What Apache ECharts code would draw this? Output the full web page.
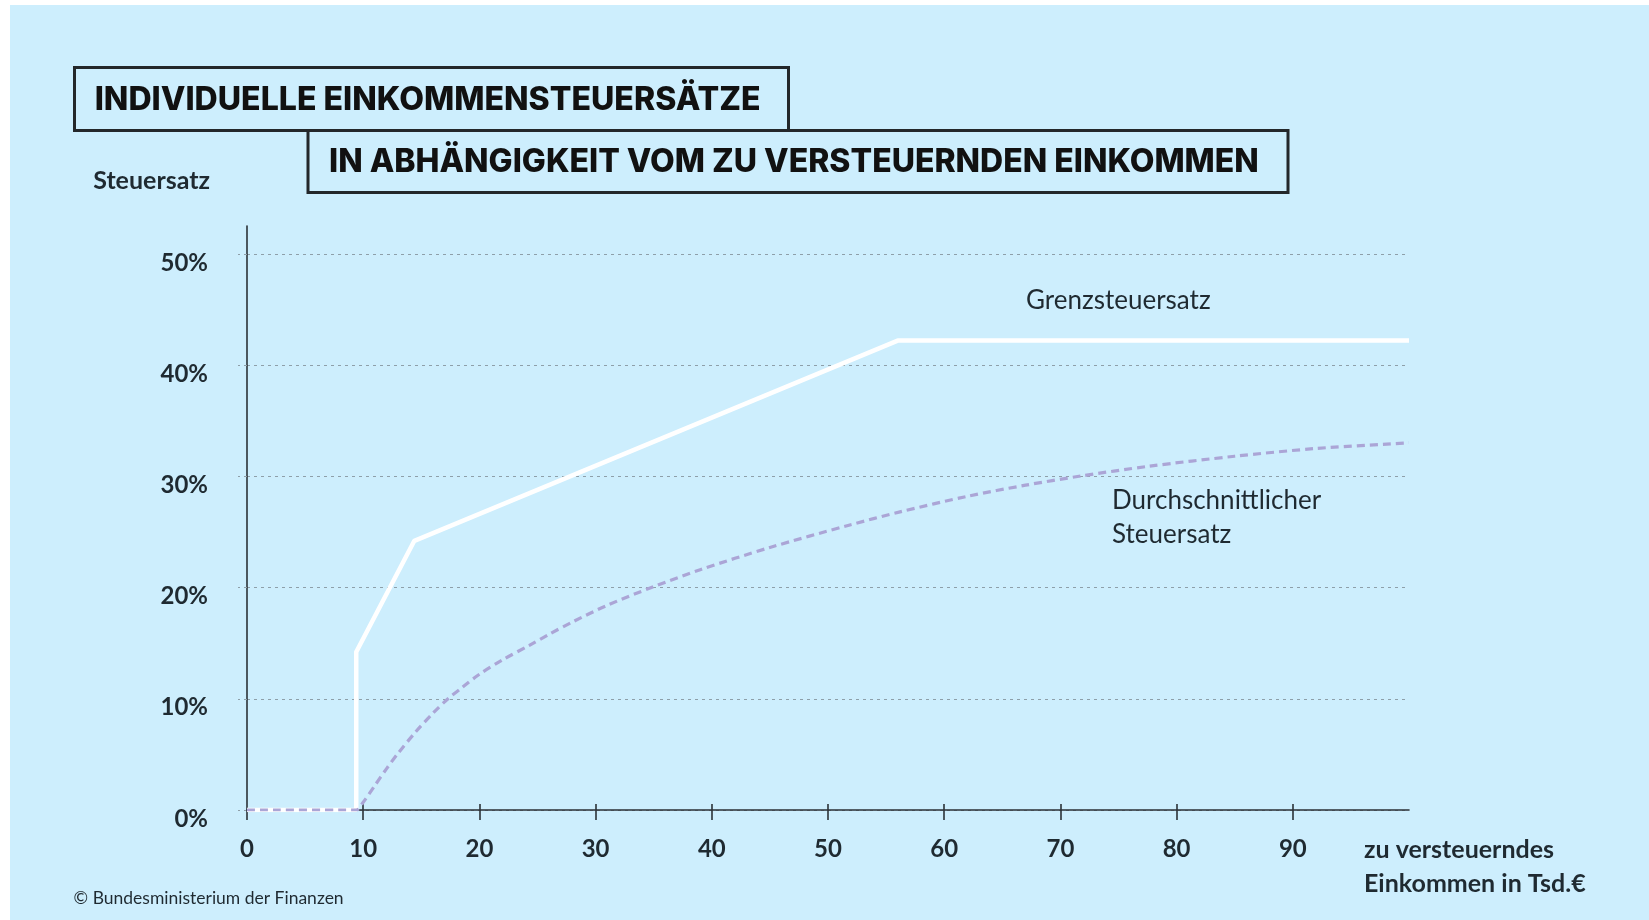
<!DOCTYPE html>
<html><head><meta charset="utf-8">
<script src="https://cdn.jsdelivr.net/npm/echarts@6/dist/echarts.min.js"></script>
<style>html,body{margin:0;padding:0;background:#fff}#c{width:1649px;height:920px}</style>
</head><body><div id="c"></div>
<script>
// ---- data ----
const xTicks = [0, 10, 20, 30, 40, 50, 60, 70, 80, 90];
const yTicks = [0, 10, 20, 30, 40, 50];
const seriesNames = ['Grenzsteuersatz', 'Durchschnittlicher\nSteuersatz'];
const marginalX = [0, 9.4, 9.4, 14.4, 56.0, 100];
const marginalY = [0, 0, 14.2, 24.2, 42.2, 42.2];
const averageX = [0, 9.4, 10, 11, 12, 13, 14.5, 16, 17.3, 18.5, 20, 22, 24.3, 26, 28, 31, 34.8, 39, 45, 51.8, 56.2, 62, 67, 71.6, 77.6, 85, 92, 100];
const averageY = [0, 0, 0.7, 2.2, 3.7, 5.1, 7.0, 8.7, 10, 11.0, 12.2, 13.5, 14.8, 15.8, 16.9, 18.4, 20, 21.6, 23.6, 25.6, 26.8, 28.2, 29.2, 30, 30.9, 31.8, 32.5, 33.0];
const titleLine1 = 'INDIVIDUELLE EINKOMMENSTEUERSÄTZE';
const titleLine2 = 'IN ABHÄNGIGKEIT VOM ZU VERSTEUERNDEN EINKOMMEN';
const yAxisName = 'Steuersatz';
const xAxisName = 'zu versteuerndes\nEinkommen in Tsd.€';
const sourceText = '© Bundesministerium der Finanzen';

// ---- style / layout ----
const BG = '#cdeefd';
const INK = '#1f2a31';
const AXIS = '#2b3136';
const GRID = '#8e9fa9';
const FONT = 'Lato, "Noto Sans", sans-serif';
const TITLE_FONT = 'Inter, "Noto Sans", sans-serif';
const labelAnchor1 = [67.0, 45.8];
const labelAnchor2 = [74.4, 26.3];

function fitSize(text, weight, family, target) {
  const ctx = document.createElement('canvas').getContext('2d');
  ctx.font = weight + ' 100px ' + family;
  return 100 * target / ctx.measureText(text).width;
}
const t1Size = fitSize(titleLine1, 800, TITLE_FONT, 666);
const t2Size = fitSize(titleLine2, 800, TITLE_FONT, 930);

const zip = (xs, ys) => xs.map((x, i) => [x, ys[i]]);

const chart = echarts.init(document.getElementById('c'), null, {renderer: 'canvas'});
const tickStyle = {fontFamily: FONT, fontSize: 24, fontWeight: 'bold', color: INK};
const nameStyle = {fontFamily: FONT, fontSize: 25, fontWeight: 'bold', color: INK};

chart.setOption({
  animation: false,
  backgroundColor: '#ffffff',
  textStyle: {fontFamily: FONT},
  grid: {left: 247, right: 240, top: 226, bottom: 110},
  xAxis: [{
    type: 'value', min: 0, max: 100, interval: 10, position: 'bottom',
    axisLine: {show: true, onZero: false, lineStyle: {color: AXIS, width: 1.6}},
    axisTick: {show: true, length: 10, customValues: xTicks, lineStyle: {color: AXIS, width: 1.6}},
    axisLabel: Object.assign({customValues: xTicks, margin: 27}, tickStyle),
    splitLine: {show: false},
    name: xAxisName, nameLocation: 'end', nameGap: -45,
    nameTextStyle: Object.assign({align: 'left', verticalAlign: 'top', lineHeight: 34, padding: [23, 0, 0, 0]}, nameStyle)
  }, {
    type: 'value', min: 0, max: 100, interval: 10, position: 'bottom',
    axisLine: {show: false},
    axisTick: {show: true, inside: true, length: 6, customValues: xTicks.slice(1), lineStyle: {color: AXIS, width: 1.6}},
    axisLabel: {show: false},
    splitLine: {show: false}
  }],
  yAxis: {
    type: 'value', min: 0, max: 52.5, interval: 10,
    axisLine: {show: true, lineStyle: {color: AXIS, width: 1.6}},
    axisTick: {show: true, length: 9, customValues: yTicks, lineStyle: {color: GRID, width: 1.2, type: [3, 4]}},
    axisLabel: Object.assign({customValues: yTicks, formatter: '{value}%', margin: 39, verticalAlign: 'top', lineHeight: 18}, tickStyle),
    splitLine: {show: true, lineStyle: {color: GRID, width: 1.2, type: [3, 4]}},
    name: yAxisName, nameLocation: 'end', nameGap: 45,
    nameTextStyle: Object.assign({align: 'right', verticalAlign: 'middle', padding: [0, 37, 0, 0]}, nameStyle)
  },
  series: [{
    name: seriesNames[0], type: 'line', data: zip(marginalX, marginalY),
    symbol: 'none', lineStyle: {color: '#ffffff', width: 4.5}, z: 3,
    markPoint: {
      symbol: 'circle', symbolSize: 1, itemStyle: {color: 'transparent'},
      data: [{coord: labelAnchor1}],
      label: {show: true, position: 'right', distance: 0, formatter: seriesNames[0],
        fontFamily: FONT, fontSize: 26, color: INK}
    }
  }, {
    name: seriesNames[1], type: 'line', data: zip(averageX, averageY),
    symbol: 'none', smooth: 0.3,
    lineStyle: {color: '#aba5d6', width: 3.2, type: [8, 5]}, z: 4,
    markPoint: {
      symbol: 'circle', symbolSize: 1, itemStyle: {color: 'transparent'},
      data: [{coord: labelAnchor2}],
      label: {show: true, position: 'right', distance: 0, formatter: seriesNames[1],
        fontFamily: FONT, fontSize: 26, lineHeight: 34, color: INK}
    }
  }],
  graphic: [
    {type: 'rect', z: -10, silent: true, shape: {x: 10, y: 5, width: 1639, height: 915}, style: {fill: BG}},
    {type: 'rect', z: 10, shape: {x: 74.5, y: 67.5, width: 714, height: 63}, style: {fill: BG, stroke: '#23272a', lineWidth: 3}},
    {type: 'rect', z: 11, shape: {x: 308, y: 130.5, width: 980, height: 62}, style: {fill: BG, stroke: '#23272a', lineWidth: 3}},
    {type: 'text', z: 12, x: 94.7, y: 100, style: {text: titleLine1, fill: '#111', font: '800 ' + t1Size.toFixed(2) + 'px ' + TITLE_FONT, verticalAlign: 'middle'}},
    {type: 'text', z: 12, x: 329, y: 162, style: {text: titleLine2, fill: '#111', font: '800 ' + t2Size.toFixed(2) + 'px ' + TITLE_FONT, verticalAlign: 'middle'}},
    {type: 'text', z: 12, x: 73.6, y: 898, style: {text: sourceText, fill: INK, font: '17.5px ' + FONT, verticalAlign: 'middle'}}
  ]
});
</script>
</body></html>
